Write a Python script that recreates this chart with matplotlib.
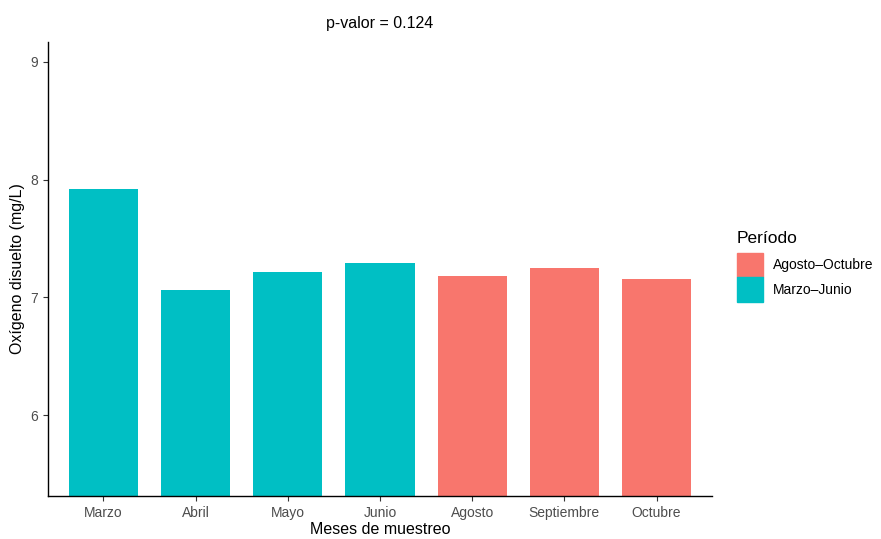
import matplotlib.pyplot as plt

plt.rcParams['font.family'] = ['Liberation Sans', 'DejaVu Sans']

meses = ['Marzo', 'Abril', 'Mayo', 'Junio', 'Agosto', 'Septiembre', 'Octubre']
oxigeno = [7.92, 7.06, 7.22, 7.29, 7.18, 7.25, 7.16]
periodo = ['Marzo–Junio'] * 4 + ['Agosto–Octubre'] * 3

colores = {'Agosto–Octubre': '#F8766D', 'Marzo–Junio': '#00BFC4'}

fig = plt.figure(figsize=(8.81, 5.39), dpi=100)
ax = fig.add_axes([0.0545, 0.080, 0.7535, 0.8426])

x = list(range(len(meses)))
ax.bar(x, oxigeno, width=0.75, bottom=0,
       color=[colores[p] for p in periodo])

ax.set_xlim(-0.6, len(meses) - 0.4)
ax.set_ylim(5.316, 9.17)
ax.set_yticks([6, 7, 8, 9])
ax.set_xticks(x)
ax.set_xticklabels(meses)
ax.tick_params(axis='both', labelsize=10, colors='#333333', length=3.5, width=0.8)
ax.tick_params(axis='both', labelcolor='#4d4d4d')
for s in ['top', 'right']:
    ax.spines[s].set_visible(False)
for s in ['left', 'bottom']:
    ax.spines[s].set_linewidth(1.0)

ax.set_xlabel('Meses de muestreo', fontsize=11.5, labelpad=2)
ax.set_ylabel('Oxígeno disuelto (mg/L)', fontsize=11.5, labelpad=4)
ax.set_title('p-valor = 0.124', fontsize=11.5, pad=10)

# leyenda
handles = [plt.Rectangle((0, 0), 1, 1, color=colores[k]) for k in colores]
leg = fig.legend(handles, list(colores.keys()), title='Período',
                 loc='upper left', bbox_to_anchor=(0.8365, 0.572),
                 frameon=False, fontsize=10, title_fontsize=12.5,
                 handlelength=1.9, handleheight=2.35, handletextpad=0.7,
                 labelspacing=0.0, borderpad=0, borderaxespad=0)
leg._legend_box.align = 'left'
leg._legend_box.sep = 5

fig.savefig('out.png', dpi=100)
